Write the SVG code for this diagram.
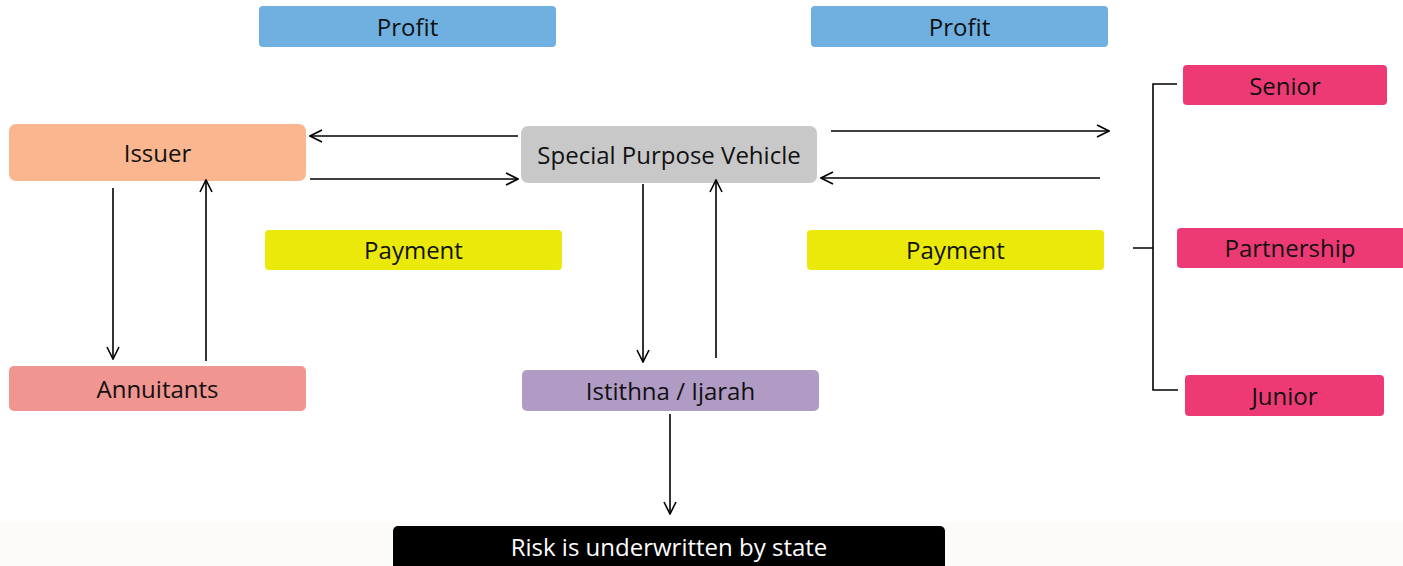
<svg xmlns="http://www.w3.org/2000/svg" width="1403" height="566" viewBox="0 0 1403 566">
<defs>
<style>
.lbl{font-family:"Open Sans","Liberation Sans",sans-serif;font-size:24px;fill:#111;text-anchor:middle;dominant-baseline:central}
.wt{fill:#fff}
.ln{stroke:#000;stroke-width:1.6;fill:none}
.ar{marker-end:url(#ah)}
</style>
<marker id="ah" viewBox="0 0 14 14" refX="13" refY="7" markerWidth="14" markerHeight="14" markerUnits="userSpaceOnUse" orient="auto">
<path d="M1,1 L13,7 L1,13" fill="none" stroke="#000" stroke-width="1.6"/>
</marker>
</defs>
<rect x="0" y="0" width="1403" height="566" fill="#fff"/>
<rect x="0" y="522" width="1403" height="44" fill="#fcfbfa"/>
<g id="profit1"><rect x="259" y="6" width="297" height="41" rx="4" fill="#6fb0e0"/><text class="lbl" x="407.5" y="26">Profit</text></g>
<g id="profit2"><rect x="811" y="6" width="297" height="41" rx="4" fill="#6fb0e0"/><text class="lbl" x="959.5" y="26">Profit</text></g>
<g id="issuer"><rect x="9" y="124" width="297" height="57" rx="7" fill="#f9b68f"/><text class="lbl" x="157.5" y="152">Issuer</text></g>
<g id="spv"><rect x="521" y="126" width="296" height="57" rx="7" fill="#c8c8c9"/><text class="lbl" x="669" y="154">Special Purpose Vehicle</text></g>
<g id="payment1"><rect x="265" y="230" width="297" height="40" rx="4" fill="#ebe90a"/><text class="lbl" x="413.5" y="249">Payment</text></g>
<g id="payment2"><rect x="807" y="230" width="297" height="40" rx="4" fill="#ebe90a"/><text class="lbl" x="955.5" y="249">Payment</text></g>
<g id="annuitants"><rect x="9" y="366" width="297" height="45" rx="5" fill="#f09590"/><text class="lbl" x="157.5" y="388">Annuitants</text></g>
<g id="istithna"><rect x="522" y="370" width="297" height="41" rx="5" fill="#b09bc4"/><text class="lbl" x="670.5" y="390">Istithna / Ijarah</text></g>
<g id="senior"><rect x="1183" y="65" width="204" height="40" rx="4" fill="#ee3a74"/><text class="lbl" x="1285" y="85">Senior</text></g>
<g id="partnership"><rect x="1177" y="228" width="230" height="40" rx="4" fill="#ee3a74"/><text class="lbl" x="1290" y="247">Partnership</text></g>
<g id="junior"><rect x="1185" y="375" width="199" height="41" rx="4" fill="#ee3a74"/><text class="lbl" x="1284.5" y="395">Junior</text></g>
<g id="risk"><rect x="393" y="526" width="552" height="50" rx="5" fill="#000"/><text class="lbl wt" x="669" y="546">Risk is underwritten by state</text></g>
<g id="connectors">
<line class="ln ar" x1="518" y1="136" x2="310" y2="136"/>
<line class="ln ar" x1="310" y1="179" x2="518" y2="179"/>
<line class="ln ar" x1="831" y1="131" x2="1109" y2="131"/>
<line class="ln ar" x1="1100" y1="178" x2="821" y2="178"/>
<line class="ln ar" x1="113" y1="188" x2="113" y2="359"/>
<line class="ln ar" x1="206" y1="361" x2="206" y2="180"/>
<line class="ln ar" x1="643" y1="184" x2="643" y2="362"/>
<line class="ln ar" x1="716" y1="358" x2="716" y2="180"/>
<line class="ln ar" x1="670" y1="414" x2="670" y2="514"/>
<path class="ln" d="M1177,84 H1153 V390 H1178 M1133,248 H1153"/>
</g>
</svg>
